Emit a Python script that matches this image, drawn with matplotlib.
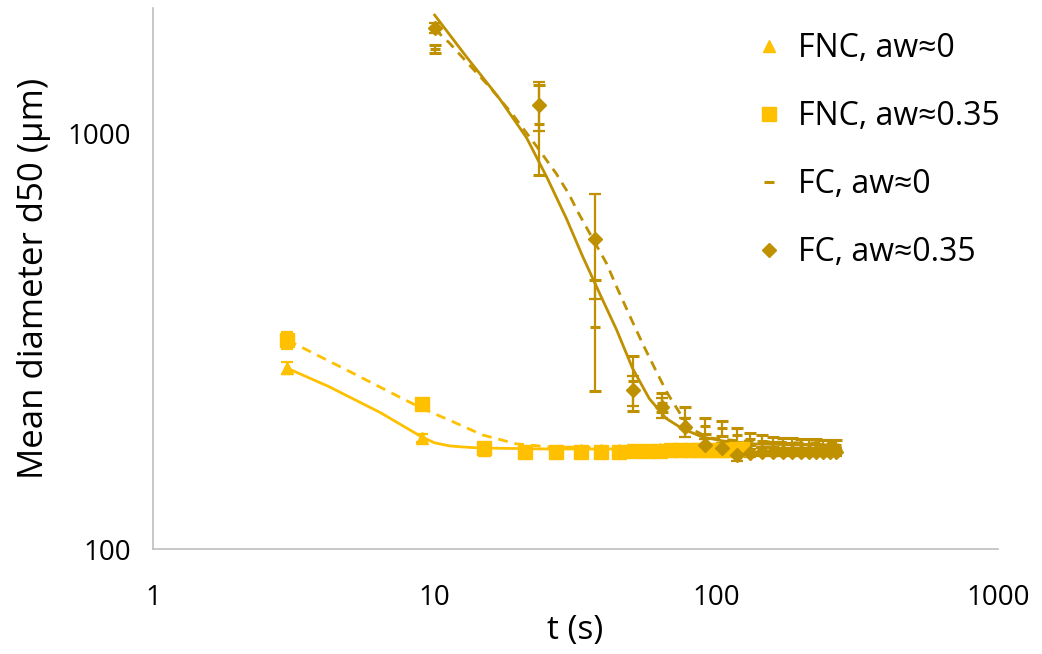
import matplotlib
matplotlib.use("Agg")
import matplotlib.pyplot as plt
from matplotlib.lines import Line2D
from matplotlib.ticker import FixedLocator, NullLocator

plt.rcParams['font.family'] = ['Open Sans', 'DejaVu Sans']

YELLOW = "#FFC000"
GOLD = "#BF9000"

# FNC series (yellow), sampled every 6 s
t_fnc = [3, 9, 15, 21, 27, 33, 39, 45, 51, 57, 63, 69, 75, 81, 87, 93, 99, 105, 111, 117, 123]
fnc_aw0 = [272, 185, 173, 172, 172, 173, 173, 173, 173, 173, 174, 174, 174, 174, 174, 174, 174, 174, 174, 174, 174]
fnc_aw0_err = [9, 4, 3, 3, 3, 3, 3, 3, 3, 3, 3, 3, 3, 3, 3, 3, 3, 3, 3, 3, 3]
fnc_aw35 = [318, 223, 175, 171, 171, 171, 171, 171, 172, 172, 172, 173, 173, 173, 173, 173, 173, 173, 173, 174, 174]
fnc_aw35_err = [15, 5, 4, 3, 3, 3, 3, 3, 3, 3, 3, 3, 3, 3, 3, 3, 3, 3, 3, 3, 3]

# FC series (dark gold), sampled every 13.5 s
t_fc = [10, 23.5, 37, 50.5, 64, 77.5, 91, 104.5, 118, 131.5, 145, 158.5, 172, 185.5, 199, 212.5, 226, 239.5, 253, 266.5]
fc_aw0 = [1591, 1050, 342, 253, 225, 207, 198, 195, 188, 184, 182, 181, 180, 180, 179, 179, 179, 178, 178, 178]
fc_aw0_err = [35, 257, 102, 38, 12, 12, 9, 8, 7, 6, 6, 5, 5, 5, 5, 5, 5, 5, 5, 5]
fc_aw35 = [1787, 1168, 556, 241, 219, 196, 178, 175, 168, 170, 171, 171, 171, 171, 171, 171, 171, 171, 171, 171]
fc_aw35_err = [50, 158, 157, 20, 12, 10, 6, 5, 5, 4, 4, 4, 4, 4, 4, 4, 4, 4, 4, 4]

# fitted curves
fit_fnc_aw0_t = [3.0, 4.2, 6.4, 9.0, 10.0, 11.3, 12.5, 14.4, 25, 58, 125]
fit_fnc_aw0 = [272, 246, 213, 186, 180, 177, 176, 175, 174, 174, 174]
fit_fnc_aw35_t = [3.0, 5.0, 7.5, 9.0, 11.3, 14.8, 19.5, 25.5, 60, 125]
fit_fnc_aw35 = [318, 267, 232, 218, 204, 188, 179, 176, 175, 175]
fit_fc_aw35_t = [10, 13, 17, 21.2, 25.1, 29.4, 33.5, 38.5, 44.3, 50.4, 57.8, 66.4, 75.5, 89, 105, 131, 197, 270]
fit_fc_aw35 = [1923, 1523, 1210, 975, 780, 622, 506, 412, 336, 272, 230, 206, 195, 186, 182, 179, 178, 178]
fit_fc_aw0_t = [10, 11.3, 13, 15.7, 18.9, 23, 27, 30.1, 32.1, 36, 40.7, 44.4, 49.9, 54.7, 61.1, 67, 75.6, 82, 94.3, 120, 197, 270]
fit_fc_aw0 = [1780, 1646, 1482, 1290, 1110, 930, 800, 710, 650, 565, 487, 425, 357, 312, 268, 237, 208, 194, 185, 182, 180, 180]

fig = plt.figure(figsize=(10.42, 6.54), dpi=100)
ax = fig.add_axes([153 / 1042, 105 / 654, 845 / 1042, 541 / 654])

dash = (0, (3.5, 2.5))
ax.plot(fit_fnc_aw0_t, fit_fnc_aw0, color=YELLOW, lw=2, zorder=2)
ax.plot(fit_fnc_aw35_t, fit_fnc_aw35, color=YELLOW, lw=2, ls=dash, zorder=2)
ax.plot(fit_fc_aw35_t, fit_fc_aw35, color=GOLD, lw=2, zorder=2)
ax.plot(fit_fc_aw0_t, fit_fc_aw0, color=GOLD, lw=2, ls=dash, zorder=2)

ekw = dict(ls="none", elinewidth=1.6, capsize=4, capthick=1.6, zorder=3)
ax.errorbar(t_fnc, fnc_aw0, yerr=fnc_aw0_err, color=YELLOW, marker="^", ms=9, **ekw)
ax.errorbar(t_fnc, fnc_aw35, yerr=fnc_aw35_err, color=YELLOW, marker="s", ms=10, **ekw)
ax.errorbar(t_fc, fc_aw0, yerr=fc_aw0_err, color=GOLD, marker="_", ms=7, mew=2.2, **ekw)
ax.errorbar(t_fc, fc_aw35, yerr=fc_aw35_err, color=GOLD, marker="D", ms=7, **ekw)

ax.set_xscale("log")
ax.set_yscale("log")
ax.set_xlim(1, 1000)
ax.set_ylim(100, 2000)
ax.xaxis.set_major_locator(FixedLocator([1, 10, 100, 1000]))
ax.yaxis.set_major_locator(FixedLocator([100, 1000]))
ax.xaxis.set_minor_locator(NullLocator())
ax.yaxis.set_minor_locator(NullLocator())
ax.set_xticklabels(["1", "10", "100", "1000"])
ax.set_yticklabels(["100", "1000"])
ax.tick_params(axis="both", length=0, labelsize=20, colors="black")
ax.tick_params(axis="x", pad=25)
ax.tick_params(axis="y", pad=16)

for side in ["top", "right"]:
    ax.spines[side].set_visible(False)
for side in ["left", "bottom"]:
    ax.spines[side].set_color("#BFBFBF")
    ax.spines[side].set_linewidth(1.2)

ax.set_xlabel("t (s)", fontsize=24, labelpad=2)
ax.set_ylabel("Mean diameter d50 (µm)", fontsize=25, labelpad=12)

handles = [
    Line2D([], [], color=YELLOW, marker="^", ls="none", ms=9),
    Line2D([], [], color=YELLOW, marker="s", ls="none", ms=10),
    Line2D([], [], color=GOLD, marker="_", ls="none", ms=7, mew=2.2),
    Line2D([], [], color=GOLD, marker="D", ls="none", ms=7),
]
labels = ["FNC, aw≈0", "FNC, aw≈0.35", "FC, aw≈0", "FC, aw≈0.35"]
fig.legend(handles, labels, loc="upper left", bbox_to_anchor=(740 / 1042, 1 - 16 / 654),
           frameon=False, fontsize=23, handlelength=0.8, handletextpad=0.5,
           labelspacing=1.1, borderpad=0)

fig.savefig("out.png", dpi=100)
